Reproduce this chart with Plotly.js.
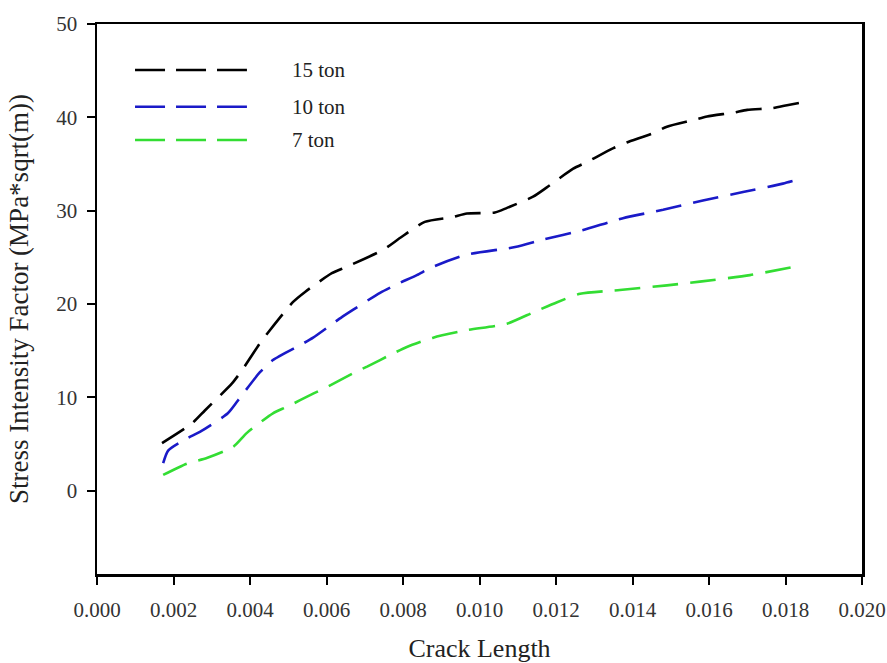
<!DOCTYPE html>
<html>
<head>
<meta charset="utf-8">
<script src="https://cdn.plot.ly/plotly-3.0.1.min.js"></script>
<style>html,body{margin:0;padding:0;background:#fff;}#chart{width:887px;height:663px;}</style>
</head>
<body>
<div id="chart"></div>
<script>
// Data
const seriesNames = ["15 ton", "10 ton", "7 ton"];
const seriesColors = ["#000000", "#1a1ac8", "#33dd33"];

const x15 = [0.0017, 0.00248, 0.00282, 0.00353, 0.00379, 0.00426, 0.00452, 0.00512, 0.00544, 0.00614, 0.00653, 0.00748, 0.00793, 0.00857, 0.00928, 0.00967, 0.0104, 0.01072, 0.0114, 0.01176, 0.01245, 0.0128, 0.0135, 0.01385, 0.01454, 0.0149, 0.01558, 0.01595, 0.01663, 0.017, 0.01767, 0.01804, 0.01843];
const y15 = [5.1, 7.2, 8.6, 11.5, 12.9, 15.8, 17.2, 20.2, 21.3, 23.3, 24.0, 25.8, 27.1, 28.8, 29.3, 29.7, 29.8, 30.3, 31.5, 32.5, 34.5, 35.2, 36.7, 37.3, 38.3, 39.0, 39.7, 40.1, 40.5, 40.8, 41.0, 41.3, 41.6];

const x10 = [0.00173, 0.00186, 0.00235, 0.00269, 0.00342, 0.00369, 0.00426, 0.0046, 0.00531, 0.00565, 0.0064, 0.0067, 0.0074, 0.00783, 0.00836, 0.00879, 0.00967, 0.01093, 0.01166, 0.01268, 0.01375, 0.0148, 0.01584, 0.01689, 0.01793, 0.01838];
const y10 = [2.95, 4.3, 5.6, 6.3, 8.3, 9.7, 12.7, 14.0, 15.6, 16.4, 18.6, 19.4, 21.2, 22.1, 23.1, 24.0, 25.3, 26.1, 26.9, 27.9, 29.2, 30.1, 31.1, 32.0, 32.9, 33.4];

const x7 = [0.00173, 0.00235, 0.00287, 0.00356, 0.00392, 0.0046, 0.00497, 0.00565, 0.00601, 0.0067, 0.00706, 0.00774, 0.0081, 0.00879, 0.00967, 0.01072, 0.0114, 0.01203, 0.01263, 0.01367, 0.0149, 0.01576, 0.01707, 0.01825];
const y7 = [1.7, 2.9, 3.5, 4.7, 6.2, 8.3, 9.0, 10.4, 11.1, 12.6, 13.3, 14.7, 15.4, 16.4, 17.2, 17.9, 19.1, 20.2, 21.1, 21.5, 22.0, 22.4, 23.1, 24.0];

const xTitle = "Crack Length";
const yTitle = "Stress Intensity Factor (MPa*sqrt(m))";

const xs = [x15, x10, x7];
const ys = [y15, y10, y7];

const FONT = "Liberation Serif, Times New Roman, serif";
const traces = seriesNames.map((n, i) => ({
  type: "scatter", mode: "lines", name: n,
  x: xs[i], y: ys[i],
  line: {color: seriesColors[i], width: 2.6, dash: "26px,12px", shape: "spline", smoothing: 0.6},
  showlegend: false, hoverinfo: "x+y+name"
}));

// Manual legend (long dashed samples like the original)
const legY = [0.9164, 0.8496, 0.789];
const shapes = [];
const annotations = [];
seriesNames.forEach((n, i) => {
  shapes.push({type: "line", xref: "paper", yref: "paper", x0: 0.0497, x1: 0.196, y0: legY[i], y1: legY[i],
    line: {color: seriesColors[i], width: 2.6, dash: "30px,11px"}});
  annotations.push({xref: "paper", yref: "paper", x: 0.2523, y: legY[i], xanchor: "left", yanchor: "middle",
    text: n, showarrow: false, font: {family: FONT, size: 21, color: "#222"}});
});

const layout = {
  width: 887, height: 663,
  margin: {l: 97, r: 25, t: 24, b: 89},
  paper_bgcolor: "#fff", plot_bgcolor: "#fff",
  font: {family: FONT, color: "#222"},
  xaxis: {
    range: [0, 0.02], dtick: 0.002, tick0: 0, tickformat: ".3f",
    showgrid: false, zeroline: false,
    showline: true, linecolor: "#000", linewidth: 2.5, mirror: true,
    ticks: "outside", ticklen: 8, tickwidth: 2, tickcolor: "#000",
    ticklabelstandoff: 7,
    tickfont: {family: FONT, size: 21, color: "#333"},
    title: {text: xTitle, font: {family: FONT, size: 26, color: "#222"}, standoff: 20}
  },
  yaxis: {
    range: [-8.92, 50], dtick: 10, tick0: 0,
    showgrid: false, zeroline: false,
    showline: true, linecolor: "#000", linewidth: 2.5, mirror: true,
    ticks: "outside", ticklen: 8, tickwidth: 2, tickcolor: "#000",
    ticklabelstandoff: 5,
    tickfont: {family: FONT, size: 21, color: "#333"},
    title: {text: yTitle, font: {family: FONT, size: 27, color: "#222"}, standoff: 20}
  },
  shapes: shapes,
  annotations: annotations,
  showlegend: false
};

Plotly.newPlot("chart", traces, layout, {displayModeBar: false, staticPlot: true});
</script>
</body>
</html>
